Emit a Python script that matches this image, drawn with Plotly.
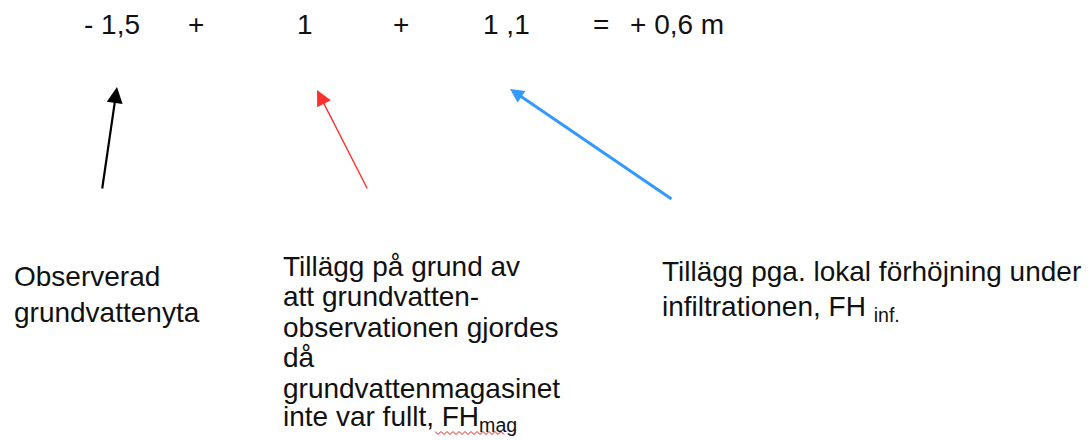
import plotly.graph_objects as go

# Equation tokens (top row)
eq_tokens = ["- 1,5", "+", "1", "+", "1 ,1", "=", "+ 0,6 m"]
eq_x = [112, 196, 305, 401, 506, 601, 677]
eq_y = 24

# Arrows: tail -> tip
arrow_tail_x = [102, 368, 673]
arrow_tail_y = [190, 190, 200]
arrow_tip_x = [117, 317, 510]
arrow_tip_y = [87, 90, 89]
arrow_colors = ["#000000", "#ff3030", "#3399ff"]
arrow_widths = [2.2, 1.4, 3]
arrow_sizes = [1.45, 2.2, 0.93]

# Text blocks (one entry per line)
left_lines = ["Observerad", "grundvattenyta"]
left_x = 12
left_baselines = [286, 322]

mid_lines = ["Tillägg på grund av", "att grundvatten-", "observationen gjordes",
             "då", "grundvattenmagasinet", "inte var fullt, FH<sub>mag</sub>"]
mid_x = 281
mid_baselines = [276, 306.5, 337, 367.5, 398, 428.5]

right_lines = ["Tillägg pga. lokal förhöjning under", "infiltrationen, FH <sub>inf.</sub>"]
right_x = 660
right_baselines = [281, 318]

# spell-check squiggle under "FHmag"
squiggle_x0, squiggle_x1, squiggle_y = 435, 504, 433

FONT = "Liberation Sans, Arial, sans-serif"
FS = 28
W, H = 1091, 440

fig = go.Figure()
fig.add_trace(go.Scatter(x=[0, W], y=[0, H], mode="markers",
                         marker=dict(opacity=0), hoverinfo="skip", showlegend=False))

annotations = []
for t, x in zip(eq_tokens, eq_x):
    annotations.append(dict(x=x, y=eq_y, text=t, showarrow=False, xanchor="center",
                            yanchor="middle", font=dict(family=FONT, size=FS, color="#111111")))

off = FS * (0.905 - (0.905 + 0.212) / 2)
for lines, x0, bls in [(left_lines, left_x, left_baselines),
                       (mid_lines, mid_x, mid_baselines),
                       (right_lines, right_x, right_baselines)]:
    for t, b in zip(lines, bls):
        annotations.append(dict(x=x0, y=b - off, text=t, showarrow=False, xanchor="left",
                                yanchor="middle", align="left",
                                font=dict(family=FONT, size=FS, color="#111111")))

for tx, ty, hx, hy, c, w, s in zip(arrow_tail_x, arrow_tail_y, arrow_tip_x, arrow_tip_y,
                                   arrow_colors, arrow_widths, arrow_sizes):
    annotations.append(dict(x=hx, y=hy, ax=tx, ay=ty, xref="x", yref="y", axref="x", ayref="y",
                            text="", showarrow=True, arrowhead=2, arrowsize=s, arrowwidth=w,
                            arrowcolor=c, standoff=0, startstandoff=0))

# zigzag path for the squiggle
pts = []
step = 3
xx = squiggle_x0
k = 0
while xx <= squiggle_x1:
    pts.append((xx, squiggle_y + (1.5 if k % 2 else -1.5)))
    xx += step
    k += 1
path = "M " + " L ".join(f"{px},{py}" for px, py in pts)
shapes = [dict(type="path", path=path, xref="x", yref="y",
               line=dict(color="#e02020", width=1))]

fig.update_layout(
    width=W, height=H,
    margin=dict(l=0, r=0, t=0, b=0),
    paper_bgcolor="white", plot_bgcolor="white",
    xaxis=dict(range=[0, W], visible=False, fixedrange=True),
    yaxis=dict(range=[H, 0], visible=False, fixedrange=True),
    annotations=annotations,
    shapes=shapes,
    showlegend=False,
)
fig.write_html("out.html", config={"displayModeBar": False},
               post_script="document.body.style.margin='0';document.body.style.overflow='hidden';")
